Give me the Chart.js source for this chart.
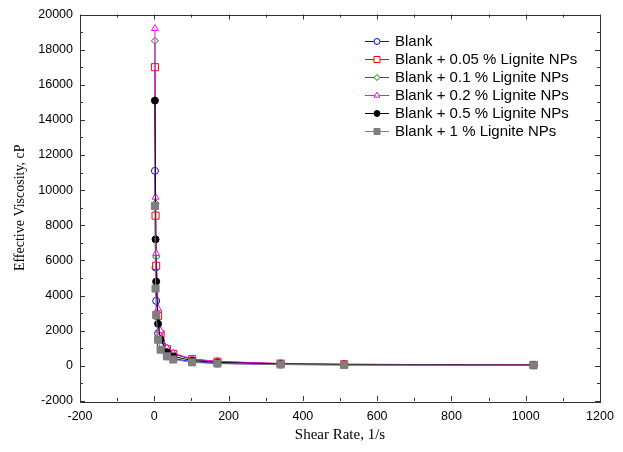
<!DOCTYPE html>
<html>
<head>
<meta charset="utf-8">
<title>Effective Viscosity vs Shear Rate</title>
<script src="https://cdn.jsdelivr.net/npm/chart.js@4.4.1/dist/chart.umd.min.js"></script>
<style>
  html, body { margin: 0; padding: 0; background: #fff; }
  #wrap { width: 623px; height: 452px; }
</style>
</head>
<body>
<div id="wrap"><canvas id="viscosityChart" width="623" height="452"></canvas></div>
<script>
// Shear rates (1/s) and effective viscosity (cP) for each fluid
const shearRate = [1.7, 3.4, 5.1, 10.2, 17, 34, 51, 102, 170, 340, 511, 1021];
const blank     = [11100, 5600, 3700, 1850, 1150, 600, 420, 230, 140, 80, 55, 35];
const np005     = [17000, 8550, 5700, 2850, 1800, 950, 680, 380, 240, 130, 90, 55];
const np01      = [18500, 9250, 6200, 3100, 1900, 980, 680, 370, 230, 120, 85, 50];
const np02      = [19200, 9600, 6400, 3250, 2000, 1020, 720, 400, 250, 130, 90, 55];
const np05      = [15100, 7200, 4800, 2400, 1500, 780, 540, 300, 190, 105, 75, 45];
const np1       = [9100, 4400, 2900, 1490, 920, 540, 360, 200, 130, 75, 50, 30];

const seriesLabels = [
    'Blank',
    'Blank + 0.05 % Lignite NPs',
    'Blank + 0.1 % Lignite NPs',
    'Blank + 0.2 % Lignite NPs',
    'Blank + 0.5 % Lignite NPs',
    'Blank + 1 % Lignite NPs'
];
const seriesValues = [blank, np005, np01, np02, np05, np1];
const seriesStyles = [
    { color: '#0000ff', fill: '#ffffff', style: 'circle',   radius: 3.5 },
    { color: '#ff0000', fill: '#ffffff', style: 'rect',     radius: 5 },
    { color: '#008000', fill: '#ffffff', style: 'rectRot',  radius: 3.5 },
    { color: '#ff00ff', fill: '#ffffff', style: 'triangle', radius: 4 },
    { color: '#000000', fill: '#000000', style: 'circle',   radius: 3.5 },
    { color: '#7f7f7f', fill: '#7f7f7f', style: 'rect',     radius: 5 }
];

const xTicks = { min: -200, max: 1200, step: 200 };
const yTicks = { min: -2000, max: 20000, step: 2000 };

const datasets = seriesValues.map((vals, i) => ({
    label: seriesLabels[i],
    data: vals.map((v, k) => ({ x: shearRate[k], y: v })),
    borderColor: seriesStyles[i].color,
    backgroundColor: seriesStyles[i].fill,
    borderWidth: 1,
    pointStyle: seriesStyles[i].style,
    pointRadius: seriesStyles[i].radius,
    pointBorderWidth: 1,
    pointBorderColor: seriesStyles[i].color,
    pointBackgroundColor: seriesStyles[i].fill,
    tension: 0,
    // later series sit on top
    order: seriesValues.length - i
}));

// Frame around the plot with inward major/minor ticks on all four sides
const framePlugin = {
    id: 'frame',
    afterDatasetsDraw(chart) {
        const { ctx, chartArea: a, scales } = chart;
        const xs = scales.x, ys = scales.y;
        ctx.save();
        ctx.strokeStyle = '#333333';
        ctx.lineWidth = 1;
        ctx.strokeRect(Math.round(a.left) + 0.5, Math.round(a.top) + 0.5,
            Math.round(a.right - a.left), Math.round(a.bottom - a.top));

        ctx.beginPath();
        xs.ticks.forEach((t, i) => {
            const vals = [t.value];
            if (i < xs.ticks.length - 1) vals.push(t.value + xTicks.step / 2);
            vals.forEach((v, j) => {
                const len = j === 0 ? 5 : 3;
                const px = Math.round(xs.getPixelForValue(v)) + 0.5;
                ctx.moveTo(px, a.bottom); ctx.lineTo(px, a.bottom - len);
                ctx.moveTo(px, a.top); ctx.lineTo(px, a.top + len);
            });
        });
        ys.ticks.forEach((t, i) => {
            const vals = [t.value];
            if (i < ys.ticks.length - 1) vals.push(t.value + yTicks.step / 2);
            vals.forEach((v, j) => {
                const len = j === 0 ? 5 : 3;
                const py = Math.round(ys.getPixelForValue(v)) + 0.5;
                ctx.moveTo(a.left, py); ctx.lineTo(a.left + len, py);
                ctx.moveTo(a.right, py); ctx.lineTo(a.right - len, py);
            });
        });
        ctx.stroke();
        ctx.restore();
    }
};

// Legend drawn as line + marker + label inside the plot
const lineLegend = {
    id: 'lineLegend',
    afterDraw(chart) {
        const ctx = chart.ctx;
        ctx.save();
        chart.data.datasets.forEach((ds, i) => {
            const y = 41 + i * 18;
            ctx.strokeStyle = ds.borderColor;
            ctx.lineWidth = 1;
            ctx.beginPath();
            ctx.moveTo(365, y + 0.5);
            ctx.lineTo(389, y + 0.5);
            ctx.stroke();
            ctx.fillStyle = ds.pointBackgroundColor;
            ctx.strokeStyle = ds.pointBorderColor;
            Chart.helpers.drawPoint(ctx, {
                pointStyle: ds.pointStyle,
                radius: ds.pointRadius * 0.85,
                rotation: 0,
                borderWidth: 1
            }, 377, y + 0.5);
            ctx.fillStyle = '#000000';
            ctx.font = '15px "Liberation Sans", Arial, sans-serif';
            ctx.textBaseline = 'middle';
            ctx.textAlign = 'left';
            ctx.fillText(ds.label, 395, y + 1);
        });
        ctx.restore();
    }
};

const plainNumber = value => String(value);

new Chart(document.getElementById('viscosityChart'), {
    type: 'line',
    data: { datasets: datasets },
    options: {
        responsive: false,
        animation: false,
        layout: { padding: { left: 0, top: 12, right: 23, bottom: 0 } },
        plugins: {
            legend: { display: false },
            tooltip: { enabled: false }
        },
        scales: {
            x: {
                type: 'linear',
                min: xTicks.min,
                max: xTicks.max,
                grid: { display: false, drawTicks: false },
                border: { display: false },
                ticks: {
                    stepSize: xTicks.step,
                    callback: plainNumber,
                    color: '#000',
                    padding: 8,
                    maxRotation: 0,
                    font: { family: '"Liberation Sans", Arial, sans-serif', size: 12.5 }
                },
                title: {
                    display: true,
                    text: 'Shear Rate, 1/s',
                    color: '#000',
                    padding: { top: 0, bottom: 8 },
                    font: { family: '"Liberation Serif", "Times New Roman", serif', size: 15 }
                },
                afterFit: s => { s.height = 51; }
            },
            y: {
                type: 'linear',
                min: yTicks.min,
                max: yTicks.max,
                grid: { display: false, drawTicks: false },
                border: { display: false },
                ticks: {
                    stepSize: yTicks.step,
                    callback: plainNumber,
                    color: '#000',
                    padding: 7,
                    font: { family: '"Liberation Sans", Arial, sans-serif', size: 12.5 }
                },
                title: {
                    display: true,
                    text: 'Effective Viscosity, cP',
                    color: '#000',
                    padding: { top: 12, bottom: 0 },
                    font: { family: '"Liberation Serif", "Times New Roman", serif', size: 14 }
                },
                afterFit: s => { s.width = 80; }
            }
        }
    },
    plugins: [framePlugin, lineLegend]
});
</script>
</body>
</html>
